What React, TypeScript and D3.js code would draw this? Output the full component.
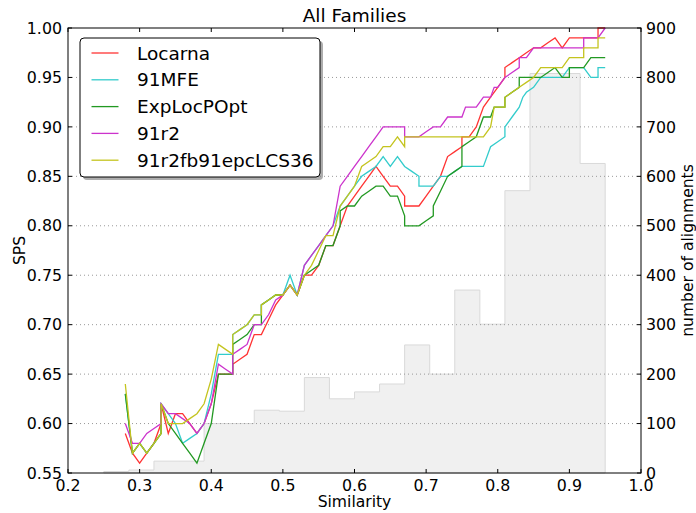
import React from 'react';
import * as d3 from 'd3';

// similarity bins of the histogram (lower edges + final upper edge)
const binEdges = [0.25, 0.285, 0.32, 0.355, 0.39, 0.425, 0.46, 0.495, 0.53, 0.565, 0.6,
  0.635, 0.67, 0.705, 0.74, 0.775, 0.81, 0.845, 0.88, 0.915, 0.95];
const binCounts = [3, 6, 24, 24, 100, 100, 127, 125, 193, 150, 164, 180, 259, 200, 370, 301,
  571, 808, 808, 626];

const locarna: [number, number][] = [
  [0.28, 0.59], [0.29, 0.57], [0.30, 0.56], [0.31, 0.57], [0.32, 0.58], [0.33, 0.60], [0.33, 0.62],
  [0.34, 0.59], [0.35, 0.61], [0.36, 0.61], [0.37, 0.60], [0.38, 0.59], [0.39, 0.60], [0.40, 0.62],
  [0.41, 0.65], [0.42, 0.65], [0.43, 0.65], [0.43, 0.66], [0.44, 0.665], [0.45, 0.67], [0.46, 0.69],
  [0.47, 0.69], [0.48, 0.705], [0.49, 0.72], [0.50, 0.73], [0.51, 0.74], [0.52, 0.73], [0.53, 0.75],
  [0.54, 0.75], [0.55, 0.76], [0.56, 0.78], [0.57, 0.78], [0.58, 0.80], [0.59, 0.82], [0.60, 0.83],
  [0.61, 0.84], [0.62, 0.85], [0.63, 0.86], [0.64, 0.85], [0.65, 0.84], [0.66, 0.84], [0.67, 0.83],
  [0.67, 0.82], [0.68, 0.82], [0.69, 0.82], [0.70, 0.83], [0.71, 0.84], [0.72, 0.85], [0.73, 0.87],
  [0.74, 0.875], [0.75, 0.88], [0.75, 0.89], [0.76, 0.89], [0.77, 0.90], [0.78, 0.92], [0.79, 0.93],
  [0.80, 0.94], [0.81, 0.95], [0.81, 0.96], [0.82, 0.965], [0.83, 0.97], [0.84, 0.975], [0.85, 0.98],
  [0.86, 0.98], [0.87, 0.985], [0.88, 0.99], [0.89, 0.98], [0.90, 0.99], [0.91, 0.99], [0.92, 0.99],
  [0.93, 0.99], [0.94, 0.99], [0.94, 1.0], [0.95, 1.0],
];

const mfe91: [number, number][] = [
  [0.28, 0.63], [0.29, 0.57], [0.30, 0.58], [0.31, 0.57], [0.32, 0.58], [0.33, 0.59], [0.33, 0.62],
  [0.34, 0.61], [0.35, 0.60], [0.36, 0.58], [0.37, 0.585], [0.38, 0.59], [0.39, 0.60], [0.40, 0.63],
  [0.41, 0.67], [0.42, 0.67], [0.43, 0.67], [0.43, 0.69], [0.44, 0.695], [0.45, 0.70], [0.46, 0.71],
  [0.47, 0.71], [0.47, 0.72], [0.48, 0.725], [0.49, 0.73], [0.50, 0.73], [0.51, 0.75], [0.52, 0.73],
  [0.53, 0.76], [0.54, 0.77], [0.55, 0.78], [0.56, 0.79], [0.57, 0.80], [0.58, 0.82], [0.59, 0.83],
  [0.60, 0.84], [0.61, 0.85], [0.62, 0.855], [0.63, 0.86], [0.64, 0.87], [0.65, 0.86], [0.66, 0.87],
  [0.67, 0.86], [0.68, 0.855], [0.69, 0.85], [0.69, 0.84], [0.70, 0.84], [0.71, 0.84], [0.72, 0.85],
  [0.73, 0.85], [0.74, 0.855], [0.75, 0.86], [0.76, 0.86], [0.77, 0.86], [0.78, 0.86], [0.79, 0.88],
  [0.80, 0.885], [0.81, 0.89], [0.81, 0.90], [0.82, 0.91], [0.83, 0.92], [0.835, 0.93], [0.84, 0.935],
  [0.85, 0.94], [0.86, 0.95], [0.87, 0.95], [0.88, 0.95], [0.89, 0.95], [0.90, 0.96], [0.91, 0.96],
  [0.92, 0.96], [0.93, 0.95], [0.94, 0.95], [0.94, 0.96], [0.95, 0.96],
];

const expLocPOpt: [number, number][] = [
  [0.28, 0.63], [0.29, 0.57], [0.30, 0.58], [0.31, 0.57], [0.32, 0.58], [0.33, 0.59], [0.33, 0.62],
  [0.34, 0.60], [0.35, 0.59], [0.36, 0.58], [0.37, 0.57], [0.38, 0.56], [0.39, 0.58], [0.40, 0.60],
  [0.41, 0.65], [0.42, 0.65], [0.43, 0.65], [0.43, 0.68], [0.44, 0.685], [0.45, 0.69], [0.46, 0.70],
  [0.47, 0.70], [0.47, 0.72], [0.48, 0.725], [0.49, 0.73], [0.50, 0.73], [0.51, 0.74], [0.52, 0.73],
  [0.53, 0.75], [0.54, 0.755], [0.55, 0.76], [0.56, 0.78], [0.57, 0.78], [0.58, 0.80], [0.58, 0.815],
  [0.59, 0.82], [0.60, 0.82], [0.61, 0.83], [0.62, 0.835], [0.63, 0.84], [0.64, 0.84], [0.65, 0.83],
  [0.66, 0.83], [0.67, 0.81], [0.67, 0.80], [0.68, 0.80], [0.69, 0.80], [0.70, 0.805], [0.71, 0.81],
  [0.71, 0.82], [0.72, 0.835], [0.73, 0.85], [0.74, 0.855], [0.75, 0.86], [0.75, 0.88], [0.76, 0.885],
  [0.77, 0.89], [0.78, 0.91], [0.79, 0.91], [0.795, 0.92], [0.80, 0.92], [0.81, 0.92], [0.81, 0.93],
  [0.82, 0.935], [0.83, 0.94], [0.83, 0.95], [0.84, 0.95], [0.85, 0.95], [0.86, 0.95], [0.87, 0.955],
  [0.88, 0.96], [0.89, 0.95], [0.90, 0.95], [0.90, 0.96], [0.91, 0.96], [0.92, 0.96], [0.93, 0.97],
  [0.94, 0.97], [0.95, 0.97],
];

const r2_91: [number, number][] = [
  [0.28, 0.60], [0.29, 0.58], [0.30, 0.58], [0.31, 0.59], [0.32, 0.595], [0.33, 0.60], [0.33, 0.62],
  [0.34, 0.61], [0.35, 0.61], [0.36, 0.605], [0.37, 0.60], [0.38, 0.59], [0.39, 0.60], [0.40, 0.62],
  [0.41, 0.66], [0.42, 0.655], [0.43, 0.65], [0.43, 0.67], [0.44, 0.675], [0.45, 0.68], [0.46, 0.70],
  [0.47, 0.70], [0.48, 0.71], [0.49, 0.725], [0.50, 0.73], [0.51, 0.74], [0.52, 0.73], [0.53, 0.76],
  [0.54, 0.77], [0.55, 0.78], [0.56, 0.79], [0.57, 0.80], [0.58, 0.84], [0.59, 0.85], [0.60, 0.86],
  [0.61, 0.87], [0.62, 0.88], [0.63, 0.89], [0.64, 0.90], [0.65, 0.90], [0.66, 0.90], [0.67, 0.90],
  [0.67, 0.89], [0.68, 0.89], [0.69, 0.89], [0.70, 0.895], [0.71, 0.90], [0.72, 0.90], [0.73, 0.91],
  [0.74, 0.91], [0.75, 0.91], [0.755, 0.92], [0.76, 0.92], [0.77, 0.92], [0.78, 0.93], [0.79, 0.93],
  [0.795, 0.94], [0.80, 0.94], [0.81, 0.95], [0.82, 0.955], [0.83, 0.96], [0.83, 0.97], [0.84, 0.97],
  [0.85, 0.98], [0.86, 0.98], [0.87, 0.98], [0.88, 0.98], [0.89, 0.98], [0.90, 0.98], [0.91, 0.98],
  [0.92, 0.98], [0.92, 0.99], [0.93, 0.99], [0.94, 0.99], [0.95, 1.0],
];

const r2fb: [number, number][] = [
  [0.28, 0.64], [0.29, 0.57], [0.30, 0.58], [0.31, 0.57], [0.32, 0.58], [0.33, 0.59], [0.33, 0.62],
  [0.34, 0.60], [0.35, 0.60], [0.36, 0.60], [0.37, 0.605], [0.38, 0.61], [0.39, 0.62], [0.40, 0.645],
  [0.41, 0.68], [0.42, 0.675], [0.43, 0.67], [0.43, 0.69], [0.44, 0.695], [0.45, 0.70], [0.46, 0.71],
  [0.47, 0.71], [0.47, 0.72], [0.48, 0.725], [0.49, 0.73], [0.50, 0.73], [0.51, 0.74], [0.52, 0.73],
  [0.53, 0.75], [0.54, 0.76], [0.55, 0.775], [0.56, 0.79], [0.57, 0.79], [0.58, 0.82], [0.59, 0.83],
  [0.60, 0.84], [0.61, 0.86], [0.62, 0.865], [0.63, 0.87], [0.64, 0.88], [0.65, 0.88], [0.66, 0.89],
  [0.67, 0.88], [0.67, 0.89], [0.68, 0.89], [0.69, 0.89], [0.70, 0.89], [0.71, 0.89], [0.72, 0.89],
  [0.73, 0.89], [0.74, 0.89], [0.75, 0.89], [0.76, 0.89], [0.77, 0.89], [0.78, 0.89], [0.79, 0.90],
  [0.795, 0.92], [0.80, 0.92], [0.81, 0.92], [0.81, 0.93], [0.82, 0.935], [0.83, 0.94], [0.84, 0.945],
  [0.85, 0.95], [0.86, 0.96], [0.87, 0.96], [0.88, 0.96], [0.89, 0.96], [0.90, 0.97], [0.91, 0.97],
  [0.92, 0.97], [0.92, 0.98], [0.93, 0.98], [0.94, 0.98], [0.94, 0.99], [0.95, 0.99],
];

const seriesNames = ['Locarna', '91MFE', 'ExpLocPOpt', '91r2', '91r2fb91epcLCS36'];
const seriesData = [locarna, mfe91, expLocPOpt, r2_91, r2fb];
const seriesColors = ['#ff3333', '#33cccc', '#229922', '#cc33cc', '#c4c41f'];

const xTicks = [0.2, 0.3, 0.4, 0.5, 0.6, 0.7, 0.8, 0.9, 1.0];
const yTicks = [0.55, 0.6, 0.65, 0.7, 0.75, 0.8, 0.85, 0.9, 0.95, 1.0];
const y2Ticks = [0, 100, 200, 300, 400, 500, 600, 700, 800, 900];

const W = 696;
const H = 513;
const margin = { top: 28, right: 55, bottom: 40, left: 68 };
const FONT = 'DejaVu Sans, sans-serif';

const App = () => {
  const x = d3.scaleLinear().domain([0.2, 1.0]).range([margin.left, W - margin.right]);
  const y = d3.scaleLinear().domain([0.55, 1.0]).range([H - margin.bottom, margin.top]);
  const y2 = d3.scaleLinear().domain([0, 900]).range([H - margin.bottom, margin.top]);

  const line = d3
    .line<[number, number]>()
    .x((d) => x(d[0]))
    .y((d) => y(d[1]));

  // stepfilled histogram outline
  let hist = `M${x(binEdges[0])},${y2(0)}`;
  binCounts.forEach((c, i) => {
    hist += `L${x(binEdges[i])},${y2(c)}L${x(binEdges[i + 1])},${y2(c)}`;
  });
  hist += `L${x(binEdges[binEdges.length - 1])},${y2(0)}Z`;

  const x0 = margin.left;
  const x1 = W - margin.right;
  const yb = H - margin.bottom;
  const yt = margin.top;
  const tick = 4;

  // legend box
  const lg = { x: 80, y: 38, w: 240, h: 139 };

  return (
    <svg
      width={W}
      height={H}
      style={{ position: 'absolute', left: 0, top: 0, background: '#fff' }}
      fontFamily={FONT}
    >
      <rect width={W} height={H} fill="#fff" />
      <path d={hist} fill="#f0f0f0" stroke="#d9d9d9" strokeWidth={1} />

      {/* grid */}
      {yTicks.slice(1, -1).map((t) => (
        <line
          key={t}
          x1={x0}
          x2={x1}
          y1={y(t)}
          y2={y(t)}
          stroke="#999"
          strokeWidth={1}
          strokeDasharray="1,3"
        />
      ))}

      {seriesData.map((d, i) => (
        <path key={seriesNames[i]} d={line(d) || ''} fill="none" stroke={seriesColors[i]} strokeWidth={1.3} />
      ))}

      {/* frame */}
      <rect x={x0} y={yt} width={x1 - x0} height={yb - yt} fill="none" stroke="#000" strokeWidth={1} />

      {xTicks.map((t) => (
        <g key={t}>
          <line x1={x(t)} x2={x(t)} y1={yb} y2={yb - tick} stroke="#000" />
          <line x1={x(t)} x2={x(t)} y1={yt} y2={yt + tick} stroke="#000" />
          <text x={x(t)} y={yb + 18} fontSize={15.8} textAnchor="middle" fill="#000">
            {t.toFixed(1)}
          </text>
        </g>
      ))}
      {yTicks.map((t) => (
        <g key={t}>
          <line x1={x0} x2={x0 + tick} y1={y(t)} y2={y(t)} stroke="#000" />
          <text x={x0 - 6} y={y(t) + 5.7} fontSize={15.8} textAnchor="end" fill="#000">
            {t.toFixed(2)}
          </text>
        </g>
      ))}
      {y2Ticks.map((t) => (
        <g key={t}>
          <line x1={x1} x2={x1 - tick} y1={y2(t)} y2={y2(t)} stroke="#000" />
          <text x={x1 + 5} y={y2(t) + 5.7} fontSize={15.8} textAnchor="start" fill="#000">
            {t}
          </text>
        </g>
      ))}

      <text x={(x0 + x1) / 2} y={22} fontSize={18.5} textAnchor="middle" fill="#000">
        All Families
      </text>
      <text x={(x0 + x1) / 2} y={507} fontSize={15.6} textAnchor="middle" fill="#000">
        Similarity
      </text>
      <text
        transform={`translate(25,${(yt + yb) / 2}) rotate(-90)`}
        fontSize={15.6}
        textAnchor="middle"
        fill="#000"
      >
        SPS
      </text>
      <text
        transform={`translate(693,${(yt + yb) / 2}) rotate(-90)`}
        fontSize={15.6}
        textAnchor="middle"
        fill="#000"
      >
        number of alignments
      </text>

      {/* legend */}
      <rect x={lg.x + 3} y={lg.y + 3} width={lg.w} height={lg.h} rx={4} fill="#777" opacity={0.6} />
      <rect x={lg.x} y={lg.y} width={lg.w} height={lg.h} rx={4} fill="#fff" stroke="#000" strokeWidth={1} />
      {seriesNames.map((name, i) => {
        const cy = lg.y + 15 + i * 26.8;
        return (
          <g key={name}>
            <line x1={91.5} x2={118.5} y1={cy} y2={cy} stroke={seriesColors[i]} strokeWidth={1.3} />
            <text x={137} y={cy + 6.6} fontSize={18.5} fill="#000">
              {name}
            </text>
          </g>
        );
      })}
    </svg>
  );
};

export default App;
